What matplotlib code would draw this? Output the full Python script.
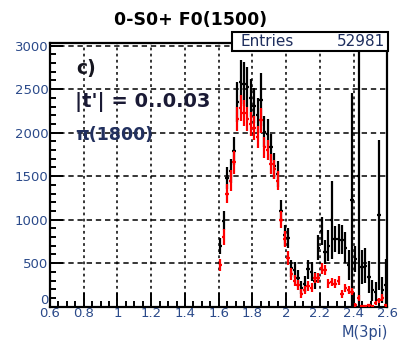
import matplotlib
matplotlib.use("Agg")
import matplotlib.pyplot as plt
from matplotlib.ticker import MultipleLocator, FixedLocator
from matplotlib.patches import Rectangle
from matplotlib.transforms import ScaledTranslation

# 3pi invariant-mass spectrum, 0.02 GeV bins
mass = [1.61, 1.63, 1.65, 1.67, 1.69, 1.71, 1.73, 1.75, 1.77, 1.79,
        1.81, 1.83, 1.85, 1.87, 1.89, 1.91, 1.93, 1.95, 1.97, 1.99,
        2.01, 2.03, 2.05, 2.07, 2.09, 2.11, 2.13, 2.15, 2.17, 2.19,
        2.21, 2.23, 2.25, 2.27, 2.29, 2.31, 2.33, 2.35, 2.37, 2.39,
        2.41, 2.43, 2.45, 2.47, 2.49, 2.51, 2.53, 2.55, 2.57, 2.59]

# total intensity (black)
total = [700, 990, 1480, 1560, 1790, 2350, 2580, 2560, 2520, 2400,
         2310, 2200, 2380, 2010, 1990, 1830, 1620, 1520, 1100, 820,
         790, 440, 420, 330, 220, 260, 430, 400, 300, 680,
         870, 630, 700, 1000, 780, 780, 770, 680, 480, 1230,
         550, 1500, 455, 470, 340, 190, 170, 1050, 190, 250]
total_err = [90, 110, 130, 140, 160, 230, 250, 250, 230, 220,
             200, 200, 300, 180, 170, 160, 150, 150, 130, 120,
             110, 100, 90, 90, 80, 90, 110, 110, 100, 140,
             160, 140, 180, 450, 150, 170, 170, 180, 170, 1230,
             150, 1650, 200, 200, 180, 120, 110, 860, 150, 300]

# pi(1800) contribution (red)
pi1800 = [480, 800, 1300, 1450, 1660, 2160, 2280, 2230, 2160, 2100,
          2050, 1950, 2140, 1830, 1800, 1640, 1580, 1450, 1000, 780,
          560, 380, 300, 250, 150, 190, 240, 220, 330, 330,
          440, 420, 270, 285, 265, 300, 150, 210, 190, 170,
          20, 95, 10, 10, 15, 10, 40, 75, 105, 15]
pi1800_err = [70, 90, 110, 120, 130, 140, 150, 150, 140, 140,
              140, 130, 140, 120, 120, 110, 110, 110, 100, 90,
              80, 70, 60, 55, 50, 50, 55, 55, 60, 60,
              60, 60, 50, 50, 50, 50, 45, 45, 45, 40,
              25, 35, 15, 15, 15, 15, 25, 30, 35, 15]

x_ticks = [0.6, 0.8, 1.0, 1.2, 1.4, 1.6, 1.8, 2.0, 2.2, 2.4, 2.6]
x_tick_labels = ["0.6", "0.8", "1", "1.2", "1.4", "1.6", "1.8", "2", "2.2", "2.4", "2.6"]
y_ticks = [0, 500, 1000, 1500, 2000, 2500, 3000]
y_tick_labels = ["0", "500", "1000", "1500", "2000", "2500", "3000"]

plt.rcParams["font.family"] = ["DejaVu Sans"]
label_col = "#2b4a8a"

fig = plt.figure(figsize=(3.99, 3.40), dpi=100)
ax = fig.add_axes([0.1253, 0.098, 0.8457, 0.7755])
ax.set_xlim(0.6, 2.6)
ax.set_ylim(0, 3030)
ax.set_axisbelow(True)

# grid: dashed horizontals, dotted verticals
ax.grid(True, axis="y", which="major", color="k", lw=1.1, ls=(0, (3.5, 2.5)))
ax.grid(True, axis="x", which="major", color="k", lw=1.1, ls=(0, (1.8, 2.2)))

half_bin = 0.01
ax.errorbar(mass, total, yerr=total_err, xerr=half_bin, fmt="none",
            ecolor="k", elinewidth=1.6, capsize=0, zorder=3)
ax.errorbar(mass, pi1800, yerr=pi1800_err, xerr=half_bin, fmt="none",
            ecolor="#ff0000", elinewidth=1.6, capsize=0, zorder=4)

# axes frame and ticks
for sp in ax.spines.values():
    sp.set_linewidth(1.6)
ax.xaxis.set_major_locator(FixedLocator(x_ticks))
ax.xaxis.set_minor_locator(MultipleLocator(0.05))
ax.yaxis.set_major_locator(FixedLocator(y_ticks))
ax.yaxis.set_minor_locator(MultipleLocator(100))
ax.set_xticklabels(x_tick_labels)
ax.set_yticklabels(y_tick_labels)
ax.tick_params(axis="both", which="both", direction="in", top=False, right=False,
               colors="k", labelcolor=label_col, labelsize=9.5, width=1.4)
ax.tick_params(axis="x", which="major", length=10, pad=0.5)
ax.tick_params(axis="x", which="minor", length=4.5)
ax.tick_params(axis="y", which="major", length=9, pad=1)
ax.tick_params(axis="y", which="minor", length=4.5)

# lift the y "0" label so it clears the first x label
zero_lbl = ax.get_yticklabels()[0]
zero_lbl.set_transform(zero_lbl.get_transform()
                       + ScaledTranslation(0, 5.5 / 72, fig.dpi_scale_trans))

# annotations
fig.text(0.477, 0.941, "0-S0+ F0(1500)", ha="center", va="center",
         fontsize=12.5, fontweight="bold")
ax.text(0.078, 0.903, "c)", transform=ax.transAxes, fontsize=13.5,
        fontweight="bold", ha="left", va="center", color="#15151f")
ax.text(0.075, 0.776, "|t'| = 0..0.03", transform=ax.transAxes, fontsize=14,
        fontweight="bold", ha="left", va="center", color="#1a1a35")
ax.text(0.075, 0.651, "\u03c0(1800)", transform=ax.transAxes, fontsize=12.5,
        fontweight="bold", ha="left", va="center", color="#22305e")
fig.text(0.972, 0.022, "M(3pi)", ha="right", va="center",
         fontsize=10.5, color=label_col)

# statistics box
box = Rectangle((0.581, 0.850), 0.391, 0.056, transform=fig.transFigure,
                facecolor="white", edgecolor="k", lw=1.5, zorder=10)
fig.patches.append(box)
fig.text(0.602, 0.879, "Entries", ha="left", va="center", fontsize=11,
         color="#1e2e5e", zorder=11)
fig.text(0.966, 0.879, "52981", ha="right", va="center", fontsize=11,
         color="#1e2e5e", zorder=11)

fig.savefig("out.png", dpi=100)
